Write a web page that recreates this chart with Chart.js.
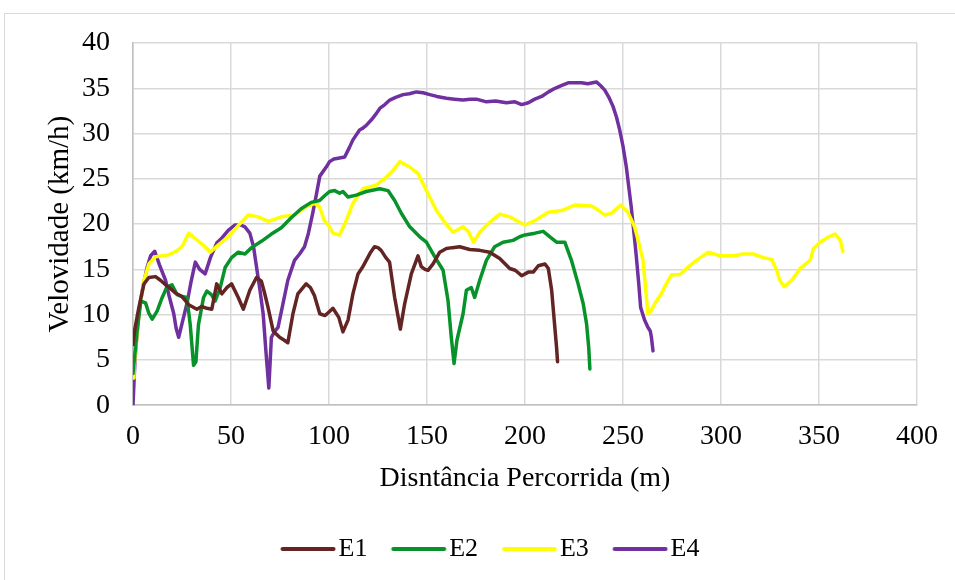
<!DOCTYPE html>
<html lang="pt">
<head>
<meta charset="utf-8">
<title>Velocidade x Distância</title>
<script src="https://cdn.jsdelivr.net/npm/chart.js@4.4.1/dist/chart.umd.min.js"></script>
<style>
  html, body { margin: 0; padding: 0; background: #ffffff; }
  #wrap { position: relative; width: 955px; height: 580px; overflow: hidden; }
  #frame { position: absolute; left: 4px; top: 13px; width: 1000px; height: 1000px;
           border-left: 1px solid #d9d9d9; border-top: 1px solid #d9d9d9; }
  #chart { position: absolute; left: 0; top: 0; }
</style>
</head>
<body>
<div id="wrap">
  <div id="frame"></div>
  <canvas id="chart" width="955" height="580"></canvas>
</div>
<script>
// Distância percorrida (m) e velocidade (km/h) de cada ensaio
const e1Dist = [0, 1, 3, 5.6, 8.1, 11.5, 14, 16.6, 19, 21.6, 25, 28.4, 32.6, 35, 37.7, 40.2, 42.7, 45.3, 48, 50.3, 53.7, 56.3, 59.6, 63, 65.5, 67, 68.9, 71.5, 74.8, 77, 79, 81.6, 84.1, 88.3, 90.5, 92.6, 95.3, 98, 100, 102, 105, 107.1, 109.7, 112.2, 114.8, 117, 119, 121, 123.2, 125, 126.6, 129, 130.9, 133.5, 136.4, 138.6, 142, 145.4, 147.1, 149, 150.5, 153.1, 156.5, 159.9, 163, 166.7, 171.8, 176.9, 182, 187.1, 192.2, 195, 198.3, 201.7, 204.2, 206.8, 210.2, 211.9, 213.6, 214.9, 216.1, 216.6];
const e1Vel  = [6.7, 8.5, 10.8, 13.4, 14.1, 14.2, 13.8, 13.3, 12.9, 12.4, 12.0, 11.1, 10.6, 10.9, 10.7, 10.6, 13.4, 12.3, 13.0, 13.4, 11.9, 10.6, 12.7, 14.1, 13.7, 12.5, 10.8, 8.2, 7.5, 7.2, 6.9, 10.1, 12.3, 13.4, 13.0, 12.1, 10.1, 9.9, 10.3, 10.7, 9.7, 8.1, 9.4, 12.3, 14.5, 15.2, 16.0, 16.8, 17.5, 17.4, 17.1, 16.3, 15.8, 11.9, 8.4, 11.2, 14.5, 16.5, 15.3, 15.0, 14.9, 15.6, 16.9, 17.3, 17.4, 17.5, 17.2, 17.1, 16.9, 16.2, 15.1, 14.9, 14.3, 14.7, 14.7, 15.4, 15.6, 15.1, 12.7, 9.4, 6.4, 4.8];

const e2Dist = [0, 2, 4, 6.4, 8, 9.8, 12.3, 14.9, 17.4, 19.9, 22.5, 25, 27.5, 29.2, 30.9, 32.1, 33.4, 36, 37.7, 40, 41.9, 44.4, 47, 50.3, 53.7, 57.1, 60.5, 65.5, 70.6, 75.7, 80.7, 85.8, 90.9, 95.2, 97.6, 100.3, 102.9, 105.4, 107.1, 109.7, 113.9, 119, 125.9, 130.1, 133.5, 136.9, 141.2, 146.3, 149.7, 153.9, 158.2, 160.7, 162.4, 163.8, 165.3, 168.4, 170.1, 172.6, 174.3, 176.9, 180.3, 184.5, 188.8, 193.9, 197.3, 200, 205.1, 209.3, 212.7, 216.1, 220.3, 223.7, 227.1, 229.7, 231.4, 232.5, 233.1];
const e2Vel  = [3.5, 8, 11.5, 11.3, 10.2, 9.5, 10.4, 11.9, 13.1, 13.3, 12.2, 12.0, 11.9, 8.9, 4.4, 4.8, 8.9, 11.9, 12.6, 12.2, 11.5, 12.9, 15.2, 16.3, 16.9, 16.7, 17.4, 18.1, 18.9, 19.6, 20.7, 21.7, 22.4, 22.6, 23.1, 23.6, 23.7, 23.4, 23.6, 23.0, 23.2, 23.6, 23.9, 23.7, 22.6, 21.2, 19.7, 18.6, 18.0, 16.4, 14.9, 11.6, 7.5, 4.6, 7.2, 10.1, 12.7, 13.0, 11.9, 13.8, 16.0, 17.5, 18.0, 18.2, 18.6, 18.8, 19.0, 19.2, 18.6, 18.0, 18.0, 16.0, 13.4, 11.2, 9.0, 6.4, 4.0];

const e3Dist = [0, 0.5, 3, 5.6, 8.1, 11.5, 15, 18.2, 22, 25, 28.4, 31.8, 36.8, 39.4, 43.6, 48.6, 54, 58.8, 63.9, 69, 75.7, 82.4, 88.3, 92.6, 95.2, 97.6, 100.3, 102, 105.4, 108.8, 112.2, 117.3, 124.1, 129.3, 133, 136.1, 141.2, 145.4, 149.7, 154.8, 159, 163.3, 168.4, 171, 173.8, 176.9, 182, 187.1, 192.2, 197.3, 200, 205.1, 211.9, 218.6, 225.4, 233.9, 237, 240.7, 244.1, 248.8, 252.5, 255.9, 258, 260.2, 261.5, 262.7, 264, 266.2, 269.5, 272.1, 274.7, 278.9, 282.4, 287.5, 293.5, 299.4, 306.3, 311.4, 316.5, 321.6, 325.9, 328.4, 330, 332.2, 336.1, 340.4, 345.5, 347.2, 350.6, 354.9, 358.3, 360.9, 362.2];
const e3Vel  = [3, 4.1, 10.1, 13.8, 15.6, 16.4, 16.5, 16.6, 17.0, 17.5, 19.0, 18.4, 17.5, 16.9, 17.7, 18.6, 19.9, 21.0, 20.8, 20.3, 20.8, 21.0, 21.9, 22.3, 21.9, 20.4, 19.7, 19.0, 18.8, 20.4, 22.3, 23.9, 24.3, 25.2, 26.0, 26.9, 26.3, 25.6, 23.7, 21.5, 20.2, 19.1, 19.7, 19.2, 18.0, 19.1, 20.2, 21.1, 20.8, 20.2, 19.9, 20.4, 21.3, 21.5, 22.1, 22.0, 21.6, 21.0, 21.2, 22.1, 21.3, 19.7, 18.0, 16.0, 13.0, 10.1, 10.3, 11.2, 12.3, 13.4, 14.4, 14.4, 15.1, 16.0, 16.9, 16.5, 16.5, 16.7, 16.7, 16.3, 16.1, 14.9, 13.8, 13.1, 13.8, 15.1, 16.0, 17.3, 18.0, 18.6, 18.9, 18.2, 17.0];

const e4Dist = [0, 1, 3, 5, 7.3, 9, 11.1, 13.5, 16.6, 18.5, 20.8, 22, 23.3, 25, 27.5, 29.5, 31.8, 34, 36.8, 39.5, 42.7, 45.5, 48.6, 52, 55, 57.1, 59.6, 61.5, 63, 64.8, 66.4, 67.8, 69.3, 70.6, 72.5, 74, 76.5, 79, 82.4, 85, 87.5, 89.5, 91.7, 93.5, 95.3, 98.6, 100.3, 102.5, 105.4, 108, 110.5, 112.2, 115.6, 117.3, 119, 122, 124.1, 126, 128.5, 131, 134, 137.8, 141, 144.6, 148, 151.4, 155, 159.9, 164, 168.4, 172, 175.2, 180.3, 185, 190.5, 194.9, 198.3, 201.7, 205, 208.5, 212, 215.3, 218.5, 222, 225.5, 228.8, 232, 236.4, 238.5, 240.7, 242.8, 244.9, 246.7, 248.3, 250, 251.7, 253, 254.2, 255.5, 256.8, 258, 259, 261, 262.7, 263.9, 264.5, 265.3];
const e4Vel  = [0, 5, 10.4, 13.0, 15.3, 16.5, 17.0, 15.5, 13.8, 12.0, 10.1, 8.5, 7.5, 9.0, 11.2, 13.5, 15.8, 15.0, 14.5, 16.3, 17.9, 18.5, 19.3, 19.9, 19.9, 19.7, 19.0, 17.5, 15.3, 12.7, 10.1, 6.0, 1.9, 7.5, 8.2, 8.6, 11.2, 13.8, 16.0, 16.7, 17.5, 19.0, 21.2, 23.2, 25.3, 26.3, 26.9, 27.2, 27.3, 27.4, 28.5, 29.3, 30.4, 30.6, 30.9, 31.6, 32.2, 32.8, 33.2, 33.7, 34.0, 34.3, 34.4, 34.6, 34.5, 34.3, 34.1, 33.9, 33.8, 33.7, 33.8, 33.8, 33.5, 33.6, 33.4, 33.5, 33.2, 33.4, 33.8, 34.1, 34.6, 35.0, 35.3, 35.6, 35.6, 35.6, 35.5, 35.7, 35.3, 34.8, 34.0, 33.0, 31.8, 30.4, 28.6, 26.3, 24.0, 21.9, 19.2, 16.4, 13.5, 10.8, 9.4, 8.6, 8.2, 7.5, 6.0];

const seriesNames = ['E1', 'E2', 'E3', 'E4'];
const seriesColors = ['#632523', '#07922a', '#ffff00', '#7030a0'];
const xTicks = [0, 50, 100, 150, 200, 250, 300, 350, 400];
const yTicks = [0, 5, 10, 15, 20, 25, 30, 35, 40];

const serif = 'Liberation Serif, Times New Roman, serif';

function pairs(xs, ys) {
  return xs.map((x, i) => ({ x: x, y: ys[i] }));
}

// Legend swatch: a short line, drawn off-centre so the label sits close to it
function legendSwatch(color) {
  const c = document.createElement('canvas');
  c.width = 108;
  c.height = 8;
  const g = c.getContext('2d');
  g.strokeStyle = color;
  g.lineWidth = 4;
  g.lineCap = 'round';
  g.beginPath();
  g.moveTo(33.5, 4);
  g.lineTo(84.5, 4);
  g.stroke();
  return c;
}

const allDist = [e1Dist, e2Dist, e3Dist, e4Dist];
const allVel = [e1Vel, e2Vel, e3Vel, e4Vel];

const datasets = seriesNames.map((name, i) => ({
  label: name,
  data: pairs(allDist[i], allVel[i]),
  borderColor: seriesColors[i],
  backgroundColor: seriesColors[i],
  borderWidth: 3.5,
  pointRadius: 0,
  pointHoverRadius: 0,
  pointStyle: legendSwatch(seriesColors[i]),
  tension: 0,
  borderJoinStyle: 'round',
  borderCapStyle: 'round'
}));

new Chart(document.getElementById('chart'), {
  type: 'line',
  data: { datasets: datasets },
  options: {
    responsive: false,
    animation: false,
    layout: { padding: { left: 63, right: 38, top: 43, bottom: 8 } },
    scales: {
      x: {
        type: 'linear',
        min: xTicks[0],
        max: xTicks[xTicks.length - 1],
        afterBuildTicks: s => { s.ticks = xTicks.map(v => ({ value: v })); },
        ticks: { padding: 15, maxRotation: 0, color: '#000', font: { family: serif, size: 28 } },
        grid: { color: '#d9d9d9', lineWidth: 1.5, drawTicks: false },
        border: { color: '#bfbfbf', width: 1.5 },
        title: { display: true, text: 'Disntância Percorrida (m)', color: '#000',
                 font: { family: serif, size: 28 }, padding: { top: 0, bottom: 17 } },
        afterFit: s => { s.height = 107; }
      },
      y: {
        type: 'linear',
        min: yTicks[0],
        max: yTicks[yTicks.length - 1],
        afterBuildTicks: s => { s.ticks = yTicks.map(v => ({ value: v })); },
        ticks: { padding: 23, color: '#000', font: { family: serif, size: 28 } },
        grid: { color: '#d9d9d9', lineWidth: 1.5, drawTicks: false },
        border: { color: '#bfbfbf', width: 1.5 },
        title: { display: true, text: 'Velovidade (km/h)', color: '#000',
                 font: { family: serif, size: 29 }, padding: { top: -20.4, bottom: 0 } },
        afterFit: s => { s.width = 70; }
      }
    },
    plugins: {
      legend: {
        position: 'bottom',
        labels: {
          usePointStyle: true,
          pointStyleWidth: 45,
          padding: 23.8,
          color: '#000',
          font: { family: serif, size: 26 }
        }
      },
      tooltip: { enabled: false }
    }
  }
});
</script>
</body>
</html>
